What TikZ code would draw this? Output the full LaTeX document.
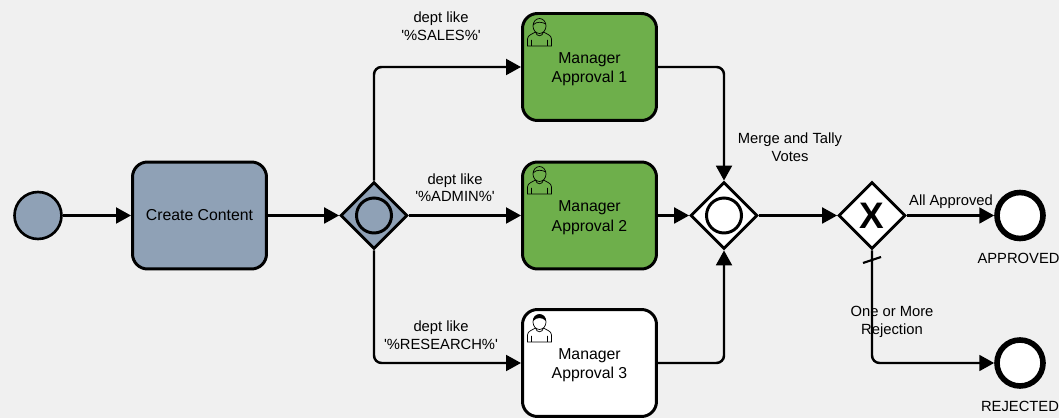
\documentclass[tikz,border=0pt]{standalone}
\usepackage{fontspec}
\setmainfont{Liberation Sans}
\usetikzlibrary{arrows.meta,shapes.geometric}

\definecolor{bgcol}{HTML}{F0F0F0}
\definecolor{slate}{HTML}{8FA1B6}
\definecolor{leaf}{HTML}{6EAF4B}

\newcommand{\lift}{\rule{0pt}{8.8pt}}

\tikzset{
    task/.style={draw, line width=1.7pt, rounded corners=0.3cm, minimum width=2.68cm, minimum height=2.14cm, align=center, font=\fontsize{9}{11.2}\selectfont},
    gate/.style={draw, diamond, aspect=1, line width=1.6pt, minimum width=1.34cm, minimum height=1.34cm, inner sep=0pt},
    ring/.style={draw, circle, line width=1.7pt, fill=white, minimum size=0.7cm, inner sep=0pt},
    startev/.style={draw, circle, line width=1.5pt, fill=slate, minimum size=0.94cm, inner sep=0pt},
    endev/.style={draw, circle, line width=3.2pt, fill=white, minimum size=0.92cm, inner sep=0pt},
    flow/.style={-{Triangle[length=8.5pt,width=9pt]}, line width=1.4pt, rounded corners=0.15cm},
    lbl/.style={align=center, inner sep=0pt, font=\fontsize{8.4}{10}\selectfont},
    person/.pic={
        \draw[line width=0.4pt, fill=#1] (-12,20) -- (-12,13) .. controls (-12,9) and (-7,8) .. (-4,6)
            -- (4,6) .. controls (7,8) and (12,9) .. (12,13) -- (12,20) -- cycle;
        \draw[line width=0.4pt, fill=#1] (0,0) ellipse (6.5 and 7.5);
        \draw[line width=0.4pt] (-8,20) -- (-8,14) (8,20) -- (8,14) (-4,6) .. controls (-3,11) and (3,11) .. (4,6);
    },
}

\begin{document}
\begin{tikzpicture}[x=0.02cm,y=-0.02cm]
    \fill[bgcol] (0,0) rectangle (1059,418);
    \useasboundingbox (0,0) rectangle (1059,418);

    \node[startev] (start) at (38,215.5) {};
    \node[task, fill=slate] (create) at (199.5,215.5) {Create Content};
    \node[gate, fill=slate] (split) at (374,215.5) {};
    \node[ring, fill=slate] (splitmark) at (374,215.5) {};
    \node[task, fill=leaf] (mgr1) at (589.5,67) {\lift Manager\\Approval 1};
    \node[task, fill=leaf] (mgr2) at (589.5,215.5) {\lift Manager\\Approval 2};
    \node[task, fill=white] (mgr3) at (589.5,363) {\lift Manager\\Approval 3};
    \node[gate, fill=white] (merge) at (724,215.5) {};
    \node[ring] (mergemark) at (724,215.5) {};
    \node[gate, fill=white, font=\fontsize{21}{21}\selectfont\bfseries] (tally) at (872,215.5) {X};
    \node[endev] (approved) at (1020,215.5) {};
    \node[endev] (rejected) at (1020,363) {};

    % user icons in the task corners
    \pic at (539.5,26) {person=leaf};
    \pic at (539.5,174) {person=leaf};
    \pic at (539.5,322) {person=white};
    \draw[line width=0.4pt] (533,25) .. controls (537,21) and (542,22) .. (546,24);
    \draw[line width=0.4pt] (533,173) .. controls (537,169) and (542,170) .. (546,172);
    \fill (533,321) .. controls (533,312) and (546,312) .. (546,321) .. controls (542,317) and (537,317) .. cycle;

    \draw[flow] (start) -- (create);
    \draw[flow] (create) -- (split);
    \draw[flow] (split) |- (mgr1);
    \draw[flow] (split) -- (mgr2);
    \draw[flow] (split) |- (mgr3);
    \draw[flow] (mgr1) -| (merge);
    \draw[flow] (mgr2) -- (merge);
    \draw[flow] (mgr3) -| (merge);
    \draw[flow] (merge) -- (tally);
    \draw[flow] (tally) -- (approved);
    \draw[flow] (tally) |- (rejected);

    % default flow slash
    \coordinate (slashA) at (863,263);
    \coordinate (slashB) at (881,257);
    \draw[line width=1.2pt] (slashA) -- (slashB);

    \node[lbl] (lblsales) at (441,26) {dept like\\\textquotesingle\%SALES\%\textquotesingle};
    \node[lbl] (lbladmin) at (455,187.5) {dept like\\\textquotesingle\%ADMIN\%\textquotesingle};
    \node[lbl] (lblresearch) at (441,335.5) {dept like\\\textquotesingle\%RESEARCH\%\textquotesingle};
    \node[lbl] (lblmerge) at (790,147) {Merge and Tally\\Votes};
    \node[lbl] (lblall) at (951,201.5) {All Approved};
    \node[lbl] (lblone) at (892,322) {One or More\\Rejection};
    \node[lbl] (lblapproved) at (1018.5,258) {APPROVED};
    \node[lbl] (lblrejected) at (1020,406) {REJECTED};
\end{tikzpicture}
\end{document}
